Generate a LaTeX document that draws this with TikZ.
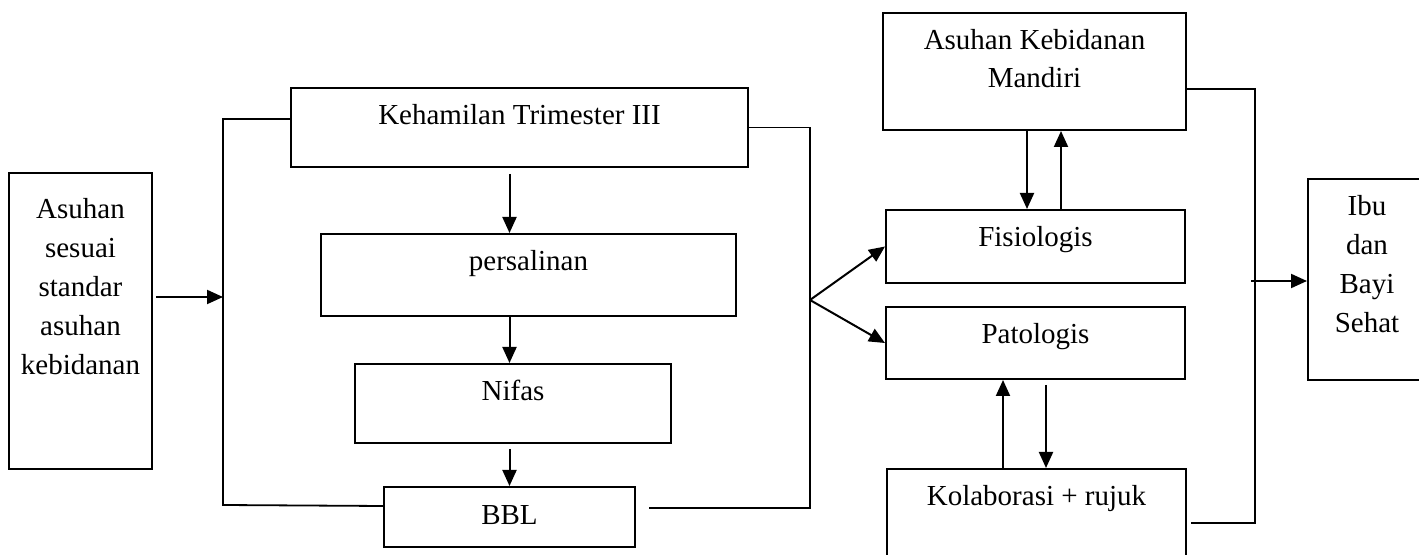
\documentclass[tikz,border=0pt]{standalone}
\usepackage{fontspec}
\setmainfont{Liberation Serif}
\usetikzlibrary{arrows.meta,calc}

\begin{document}
\begin{tikzpicture}
[x=0.5pt,y=-0.5pt,label distance=0pt,
 kotak/.style={draw,line width=1pt,anchor=north west,inner sep=0pt},
 tulisan/.style={anchor=base,yshift=-19pt,align=center,inner sep=0pt,font=\fontsize{14.5}{19.5}\selectfont},
 garis/.style={line width=0.9pt},
 panah/.style={line width=1pt,-{Triangle[length=8pt,width=7pt]}}]
\clip (0,0) rectangle (1419,555);
\node[kotak,minimum width=71.5pt,minimum height=148pt,label={[tulisan,yshift=-82.5pt]north:Asuhan\\sesuai\\standar\\asuhan\\kebidanan}] (asuh) at (8,172) {};
\node[kotak,minimum width=228.5pt,minimum height=39.5pt,label={[tulisan]north:Kehamilan Trimester III}] (hamil) at (290,87) {};
\node[kotak,minimum width=207.5pt,minimum height=41pt,label={[tulisan]north:persalinan}] (salin) at (320,233) {};
\node[kotak,minimum width=158pt,minimum height=39.5pt,label={[tulisan]north:Nifas}] (nifas) at (354,363) {};
\node[kotak,minimum width=125.5pt,minimum height=30pt,label={[tulisan]north:BBL}] (bbl) at (383,486) {};
\node[kotak,minimum width=151.5pt,minimum height=58.5pt,label={[tulisan,yshift=-19pt,font=\fontsize{14.5}{19}\selectfont]north:Asuhan Kebidanan\\Mandiri}] (mandiri) at (882,12) {};
\node[kotak,minimum width=149.5pt,minimum height=36.5pt,label={[tulisan]north:Fisiologis}] (fisio) at (885,209) {};
\node[kotak,minimum width=149.5pt,minimum height=36pt,label={[tulisan]north:Patologis}] (pato) at (885,306) {};
\node[kotak,minimum width=149.5pt,minimum height=50pt,label={[tulisan]north:Kolaborasi + rujuk}] (kolab) at (886,468) {};
\node[kotak,minimum width=59pt,minimum height=100.5pt,label={[tulisan,yshift=-58.5pt]north:Ibu\\dan\\Bayi\\Sehat}] (ibu) at (1307,178) {};
\coordinate (lb) at (223,505); \coordinate (lbmid) at (223,297);
\coordinate (fork) at (810,300); \coordinate (rc) at (1255,281);
\draw[garis] ($(hamil.north west)+(0,32)$) -| (lb) -- ($(bbl.north west)+(0,20)$);
\draw[panah] ([xshift=1.5pt]asuh.east |- lbmid) -- (lbmid);
\draw[panah,shorten <=3pt] (bbl.north |- hamil.south) -- (bbl.north |- salin.north);
\draw[panah] (bbl.north |- salin.south) -- (bbl.north |- nifas.north);
\draw[panah,shorten <=2.5pt] (bbl.north |- nifas.south) -- (bbl.north);
\draw[garis] (hamil.east) -| (fork) |- ($(bbl.north east)+(13,22)$);
\draw[panah] (fork) -- (fisio.west); \draw[panah] (fork) -- (pato.west);
\draw[panah] ([xshift=-3.75pt]mandiri.south) -- ([xshift=-3.75pt]mandiri.south |- fisio.north);
\draw[panah] ([xshift=13.25pt]mandiri.south |- fisio.north) -- ([xshift=13.25pt]mandiri.south);
\draw[panah] ([xshift=-16.75pt]kolab.north) -- ([xshift=-16.75pt]kolab.north |- pato.south);
\draw[panah,shorten <=2.5pt] ([xshift=4.75pt]kolab.north |- pato.south) -- ([xshift=4.75pt]kolab.north);
\draw[garis] ([yshift=-8.75pt]mandiri.east) -| (rc) |- ($(kolab.north east)+(4,55)$);
\draw[panah] ([xshift=-2pt]rc) -- (rc -| ibu.west);
\end{tikzpicture}
\end{document}
